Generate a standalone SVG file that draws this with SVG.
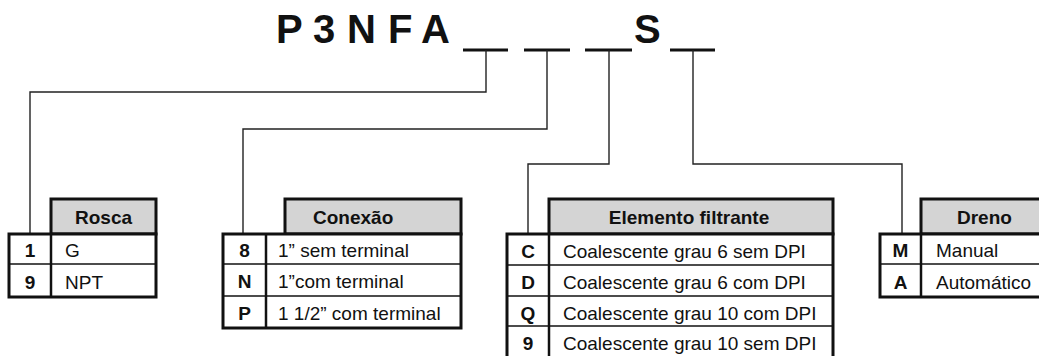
<svg xmlns="http://www.w3.org/2000/svg" width="1039" height="356" viewBox="0 0 1039 356">
<style>
text{font-family:"Liberation Sans",Arial,sans-serif;fill:#111}
.t{font-size:40px;font-weight:bold}
.h{font-size:19px;font-weight:bold}
.c{font-size:19px;font-weight:bold;text-anchor:middle}
.r{font-size:19px}
.hd{fill:#d4d4d4;stroke:#111;stroke-width:3}
.bd{fill:#fff;stroke:#111;stroke-width:3}
.dv{stroke:#111;stroke-width:2.5}
.rl{stroke:#111;stroke-width:1.5}
.cn{fill:none;stroke:#222;stroke-width:1.4}
.us{stroke:#111;stroke-width:3}
</style>
<g id="title">
<text class="t" x="276" y="43">P</text>
<text class="t" x="313" y="43">3</text>
<text class="t" x="347" y="43">N</text>
<text class="t" x="388" y="43">F</text>
<text class="t" x="421" y="43">A</text>
<text class="t" x="634" y="43">S</text>
<line class="us" x1="463" y1="50" x2="508" y2="50"/>
<line class="us" x1="524" y1="50" x2="570" y2="50"/>
<line class="us" x1="585" y1="50" x2="632" y2="50"/>
<line class="us" x1="670" y1="50" x2="715" y2="50"/>
</g>
<g id="connectors">
<polyline class="cn" points="486,50 486,92 30,92 30,234"/>
<polyline class="cn" points="547,50 547,129 243,129 243,234"/>
<polyline class="cn" points="609,50 609,164 528,164 528,234"/>
<polyline class="cn" points="693,50 693,164 902,164 902,234"/>
</g>
<g id="rosca">
<rect class="hd" x="51" y="199" width="105" height="35"/>
<rect class="bd" x="9" y="234" width="147" height="63"/>
<line class="dv" x1="51" y1="234" x2="51" y2="297"/>
<line class="rl" x1="9" y1="264" x2="156" y2="264"/>
<text class="h" x="103.5" y="224" text-anchor="middle">Rosca</text>
<text class="c" x="30" y="257">1</text>
<text class="r" x="65" y="257">G</text>
<text class="c" x="30" y="289">9</text>
<text class="r" x="65" y="289">NPT</text>
</g>
<g id="conexao">
<rect class="hd" x="285" y="199" width="176" height="35"/>
<rect class="bd" x="223" y="234" width="238" height="94"/>
<line class="dv" x1="266" y1="234" x2="266" y2="328"/>
<line class="rl" x1="223" y1="264" x2="461" y2="264"/>
<line class="rl" x1="223" y1="296" x2="461" y2="296"/>
<text class="h" x="313" y="224">Conexão</text>
<text class="c" x="244.5" y="257">8</text>
<text class="r" x="278" y="257">1” sem terminal</text>
<text class="c" x="244.5" y="288">N</text>
<text class="r" x="278" y="288">1”com terminal</text>
<text class="c" x="244.5" y="320">P</text>
<text class="r" x="278" y="320">1 1/2” com terminal</text>
</g>
<g id="elemento">
<rect class="hd" x="549" y="199" width="284" height="35"/>
<rect class="bd" x="507" y="234" width="326" height="130"/>
<line class="dv" x1="549" y1="234" x2="549" y2="364"/>
<line class="rl" x1="507" y1="265" x2="833" y2="265"/>
<line class="rl" x1="507" y1="296" x2="833" y2="296"/>
<line class="rl" x1="507" y1="326" x2="833" y2="326"/>
<text class="h" x="689" y="224" text-anchor="middle">Elemento filtrante</text>
<text class="c" x="528" y="258">C</text>
<text class="r" x="563" y="258">Coalescente grau 6 sem DPI</text>
<text class="c" x="528" y="289">D</text>
<text class="r" x="563" y="289">Coalescente grau 6 com DPI</text>
<text class="c" x="528" y="320">Q</text>
<text class="r" x="563" y="320">Coalescente grau 10 com DPI</text>
<text class="c" x="528" y="350">9</text>
<text class="r" x="563" y="350">Coalescente grau 10 sem DPI</text>
</g>
<g id="dreno">
<rect class="hd" x="921" y="199" width="130" height="35"/>
<rect class="bd" x="880" y="234" width="171" height="63"/>
<line class="dv" x1="921" y1="234" x2="921" y2="297"/>
<line class="rl" x1="880" y1="264" x2="1051" y2="264"/>
<text class="h" x="957" y="224">Dreno</text>
<text class="c" x="900.5" y="257">M</text>
<text class="r" x="936" y="257">Manual</text>
<text class="c" x="900.5" y="289">A</text>
<text class="r" x="936" y="289">Automático</text>
</g>
</svg>
